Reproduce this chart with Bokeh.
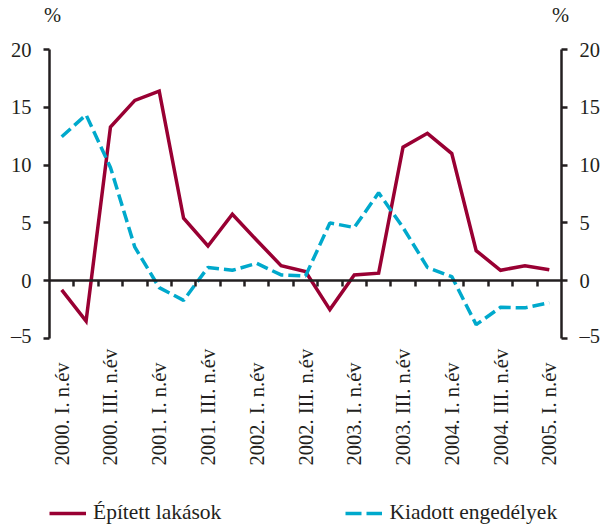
import math
from bokeh.plotting import figure
from bokeh.layouts import column
from bokeh.models import (Range1d, LinearAxis, FixedTicker, ColumnDataSource,
                          Legend, LegendItem)
from bokeh.core.properties import value
from bokeh.embed import file_html
from bokeh.resources import INLINE

quarters = ["2000. I. n.év", "2000. II. n.év", "2000. III. n.év", "2000. IV. n.év",
            "2001. I. n.év", "2001. II. n.év", "2001. III. n.év", "2001. IV. n.év",
            "2002. I. n.év", "2002. II. n.év", "2002. III. n.év", "2002. IV. n.év",
            "2003. I. n.év", "2003. II. n.év", "2003. III. n.év", "2003. IV. n.év",
            "2004. I. n.év", "2004. II. n.év", "2004. III. n.év", "2004. IV. n.év",
            "2005. I. n.év"]
epitett = [-0.8, -3.5, 13.3, 15.6, 16.4, 5.4, 3.0, 5.75, 3.5, 1.3, 0.8,
           -2.5, 0.5, 0.65, 11.55, 12.75, 11.0, 2.6, 0.9, 1.3, 0.95]
kiadott = [12.45, 14.35, 9.8, 2.9, -0.6, -1.7, 1.15, 0.9, 1.5, 0.5, 0.4,
           5.0, 4.6, 7.6, 4.6, 1.15, 0.35, -3.8, -2.3, -2.35, -1.9]
y_ticks = [-5, 0, 5, 10, 15, 20]
unit_label = "%"
series_names = ["Épített lakások", "Kiadott engedélyek"]
label_every = 2

RED = "#990033"
BLUE = "#00A9CC"
INK = "#231f20"
FONT = "Liberation Serif"
FS = "20.5px"
FS_LEG = "21.5px"

n = len(quarters)
xs = list(range(n))
xr = Range1d(-0.5, n - 0.5)

p = figure(width=603, height=346, output_backend="svg", toolbar_location=None,
           x_range=xr, y_range=Range1d(-5, 20),
           x_axis_type=None, y_axis_type=None,
           min_border_left=49, min_border_right=37, min_border_top=48, min_border_bottom=8)
p.outline_line_color = None
p.grid.visible = False

for side in ("left", "right"):
    ax = LinearAxis(ticker=FixedTicker(ticks=y_ticks))
    ax.major_label_overrides = {-5: "\u20135"}
    ax.major_tick_in = 0
    ax.major_tick_out = 6
    ax.minor_tick_out = 0
    ax.minor_tick_in = 0
    ax.axis_line_width = 2.5
    ax.major_tick_line_width = 2.5
    ax.axis_line_color = INK
    ax.major_tick_line_color = INK
    ax.major_label_text_font = FONT
    ax.major_label_text_font_size = FS
    ax.major_label_text_color = INK
    ax.major_label_standoff = 12
    p.add_layout(ax, side)

# unit labels above both y axes
u_pos = [xr.start + 0.12, xr.end - 0.04]
uax = LinearAxis(ticker=FixedTicker(ticks=u_pos))
uax.major_label_overrides = {u: unit_label for u in u_pos}
uax.axis_line_color = None
uax.major_tick_line_color = None
uax.minor_tick_line_color = None
uax.major_label_text_font = FONT
uax.major_label_text_font_size = FS
uax.major_label_text_color = INK
uax.major_label_standoff = 18
p.add_layout(uax, "above")

# zero line with boundary ticks
boundaries = [i + 0.5 for i in range(n - 1)]
zax = LinearAxis(ticker=FixedTicker(ticks=boundaries), fixed_location=0)
zax.major_label_overrides = {b: "" for b in boundaries}
zax.major_tick_in = 0
zax.major_tick_out = 6
zax.minor_tick_out = 0
zax.minor_tick_in = 0
zax.axis_line_width = 2.5
zax.major_tick_line_width = 2.5
zax.axis_line_color = INK
zax.major_tick_line_color = INK
p.add_layout(zax, "below")

src = ColumnDataSource(dict(x=xs, red=epitett, blue=kiadott))
line_red = dict(line_color=RED, line_width=3.5, line_join="miter")
line_blue = dict(line_color=BLUE, line_width=3.5, line_dash="12 5")
p.line("x", "red", source=src, **line_red)
p.line("x", "blue", source=src, **line_blue)

# lower panel: vertical category labels (bottom aligned) and legend
q = figure(width=603, height=182, output_backend="svg", toolbar_location=None,
           x_range=xr, y_range=Range1d(0, 182),
           x_axis_type=None, y_axis_type=None,
           min_border_left=49, min_border_right=37, min_border_top=0, min_border_bottom=0)
q.outline_line_color = None
q.grid.visible = False

lab_idx = xs[::label_every]
lab_src = ColumnDataSource(dict(x=lab_idx, y=[63] * len(lab_idx),
                                t=[quarters[i] for i in lab_idx]))
q.text("x", "y", text="t", source=lab_src, angle=math.pi / 2,
       text_align="left", text_baseline="middle",
       text_font=value(FONT), text_font_size=FS, text_color=INK)

lr = q.line("x", "red", source=src, visible=False, **line_red)
lb = q.line("x", "blue", source=src, visible=False, line_color=BLUE, line_width=3.5,
            line_dash="16 5")
legend = Legend(items=[LegendItem(label=series_names[0], renderers=[lr]),
                       LegendItem(label=series_names[1], renderers=[lb])],
                orientation="horizontal", location=(0, 3),
                padding=0, margin=0, spacing=124, border_line_color=None,
                background_fill_alpha=0, glyph_width=37, glyph_height=20,
                label_standoff=7, label_text_font=FONT, label_text_font_size=FS_LEG,
                label_text_color=INK)
q.add_layout(legend, "center")

layout = column(p, q, spacing=0)
open("out.html", "w").write(file_html(layout, INLINE))
